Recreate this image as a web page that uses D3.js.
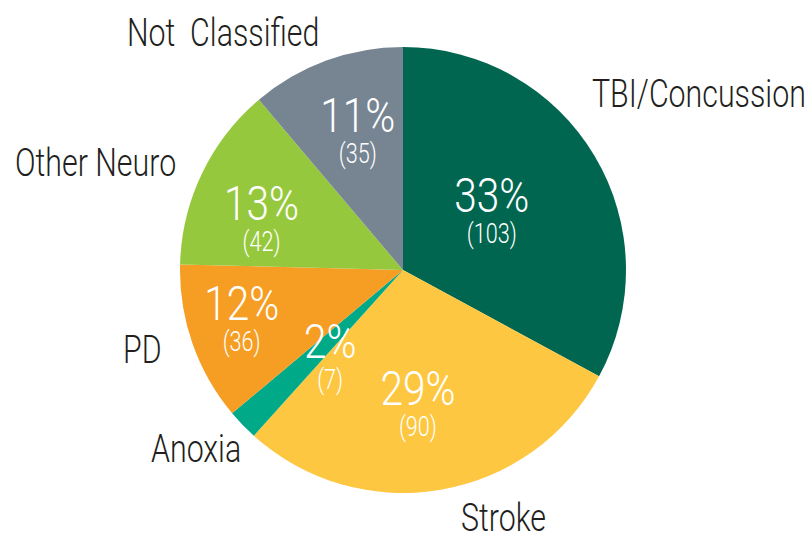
<!DOCTYPE html>
<html><head><meta charset="utf-8">
<script src="https://cdn.jsdelivr.net/npm/d3@7"></script>
<style>
html,body{margin:0;padding:0;background:#fff;}
svg text{font-family:Roboto,"Open Sans",sans-serif;white-space:pre;}
</style></head>
<body><svg id="c" width="811" height="545"></svg>
<script>
const categories = ["TBI/Concussion","Stroke","Anoxia","PD","Other Neuro","Not  Classified"];
const counts = [103, 90, 7, 36, 42, 35];
const colors = ["#006650","#fdc741","#00a988","#f69d24","#96c83e","#778592"];

// layout (positions only)
const cx = 403, cy = 270, R = 223;
const pctPos = [[56.9,106],[173.7,136],[219.7,114],[252.7,169],[289.5,150],[341.8,145]]; // [angle deg, radius] of percent baseline-centre
const outerPos = [[592,107],[461,531],[151,462],[123,363],[15,176],[127,46]];

const total = d3.sum(counts);
const data = categories.map((c,i)=>({cat:c,value:counts[i],color:colors[i],i}));
const svg = d3.select("#c");
const g = svg.append("g").attr("transform",`translate(${cx},${cy})`);
const pie = d3.pie().value(d=>d.value).sort(null);
const arc = d3.arc().innerRadius(0).outerRadius(R);
g.selectAll("path").data(pie(data)).join("path")
  .attr("d",arc).attr("fill",d=>d.data.color);

// measure helper for horizontal condensing
function widthOf(str, size){
  const t = svg.append("text").attr("font-size",size).attr("font-weight",300).text(str);
  const w = t.node().getComputedTextLength(); t.remove(); return w;
}
const kOuter = 214 / widthOf("TBI/Concussion", 38);
const kPct = 75 / widthOf("33%", 48);
const kCnt = 50 / widthOf("(103)", 27);

function addText(parent, x, y, str, size, k, anchor, fill){
  parent.append("text")
    .attr("transform",`translate(${x},${y}) scale(${k},1)`)
    .attr("text-anchor",anchor).attr("font-size",size).attr("font-weight",300)
    .attr("fill",fill).text(str);
}
const pol = (a,r)=>[r*Math.sin(a*Math.PI/180), -r*Math.cos(a*Math.PI/180)];
data.forEach((d,i)=>{
  const [x,y] = pol(pctPos[i][0], pctPos[i][1]);
  addText(g, x, y, Math.round(d.value/total*100)+"%", 48, kPct, "middle", "#fff");
  addText(g, x, y+31, "("+d.value+")", 27, kCnt, "middle", "#fff");
  addText(svg, outerPos[i][0], outerPos[i][1], d.cat, 38, kOuter, "start", "#231f20");
});
</script></body></html>
